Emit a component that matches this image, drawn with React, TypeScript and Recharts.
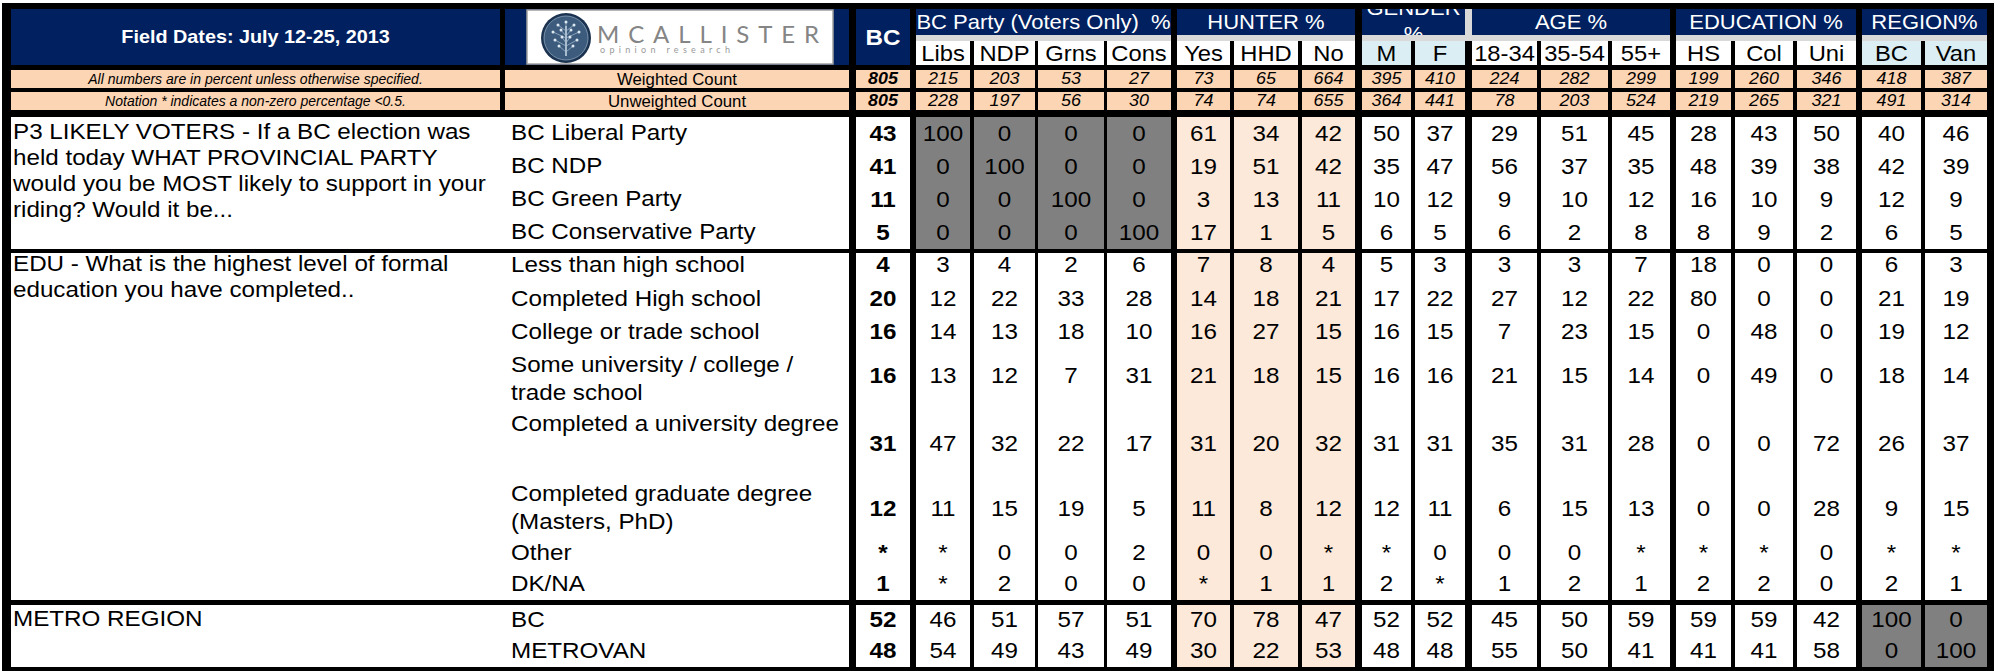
import React from 'react';
import { ScatterChart, Scatter, XAxis, YAxis, ReferenceArea } from 'recharts';

const W = 2003;
const H = 671;

// ---------- data ----------
const fieldDates = 'Field Dates: July 12-25, 2013';
const notes = [
  'All numbers are in percent unless otherwise specified.',
  'Notation * indicates a non-zero percentage <0.5.',
];
const countLabels = ['Weighted Count', 'Unweighted Count'];

const columns = ['BC', 'Libs', 'NDP', 'Grns', 'Cons', 'Yes', 'HHD', 'No', 'M', 'F', '18-34', '35-54', '55+', 'HS', 'Col', 'Uni', 'BC', 'Van'];
const groupLabels = ['BC Party (Voters Only) \u00a0%', 'HUNTER %', 'GENDER %', 'AGE %', 'EDUCATION %', 'REGION%'];
const groupSpans = [[1, 4], [5, 7], [8, 9], [10, 12], [13, 15], [16, 17]];

const weighted = [805, 215, 203, 53, 27, 73, 65, 664, 395, 410, 224, 282, 299, 199, 260, 346, 418, 387];
const unweighted = [805, 228, 197, 56, 30, 74, 74, 655, 364, 441, 78, 203, 524, 219, 265, 321, 491, 314];

const p3Question = [
  'P3 LIKELY VOTERS - If a BC election was',
  'held today WHAT PROVINCIAL PARTY',
  'would you be MOST likely to support in your',
  'riding? Would it be...',
];
const p3Labels = [['BC Liberal Party'], ['BC NDP'], ['BC Green Party'], ['BC Conservative Party']];
const p3Values = [
  [43, 100, 0, 0, 0, 61, 34, 42, 50, 37, 29, 51, 45, 28, 43, 50, 40, 46],
  [41, 0, 100, 0, 0, 19, 51, 42, 35, 47, 56, 37, 35, 48, 39, 38, 42, 39],
  [11, 0, 0, 100, 0, 3, 13, 11, 10, 12, 9, 10, 12, 16, 10, 9, 12, 9],
  [5, 0, 0, 0, 100, 17, 1, 5, 6, 5, 6, 2, 8, 8, 9, 2, 6, 5],
];

const eduQuestion = ['EDU - What is the highest level of formal', 'education you have completed..'];
const eduLabels = [
  ['Less than high school'],
  ['Completed High school'],
  ['College or trade school'],
  ['Some university / college /', 'trade school'],
  ['Completed a university degree'],
  ['Completed graduate degree', '(Masters, PhD)'],
  ['Other'],
  ['DK/NA'],
];
const eduValues = [
  [4, 3, 4, 2, 6, 7, 8, 4, 5, 3, 3, 3, 7, 18, 0, 0, 6, 3],
  [20, 12, 22, 33, 28, 14, 18, 21, 17, 22, 27, 12, 22, 80, 0, 0, 21, 19],
  [16, 14, 13, 18, 10, 16, 27, 15, 16, 15, 7, 23, 15, 0, 48, 0, 19, 12],
  [16, 13, 12, 7, 31, 21, 18, 15, 16, 16, 21, 15, 14, 0, 49, 0, 18, 14],
  [31, 47, 32, 22, 17, 31, 20, 32, 31, 31, 35, 31, 28, 0, 0, 72, 26, 37],
  [12, 11, 15, 19, 5, 11, 8, 12, 12, 11, 6, 15, 13, 0, 0, 28, 9, 15],
  ['*', '*', 0, 0, 2, 0, 0, '*', '*', 0, 0, 0, '*', '*', '*', 0, '*', '*'],
  [1, '*', 2, 0, 0, '*', 1, 1, 2, '*', 1, 2, 1, 2, 2, 0, 2, 1],
];

const metroQuestion = ['METRO REGION'];
const metroLabels = [['BC'], ['METROVAN']];
const metroValues = [
  [52, 46, 51, 57, 51, 70, 78, 47, 52, 52, 45, 50, 59, 59, 59, 42, 100, 0],
  [48, 54, 49, 43, 49, 30, 22, 53, 48, 48, 55, 50, 41, 41, 41, 58, 0, 100],
];

// ---------- layout ----------
const colEdges: [number, number][] = [
  [856, 910], [916, 970], [974, 1035], [1038, 1104], [1107, 1171],
  [1177, 1230], [1234, 1298], [1302, 1355], [1362, 1411], [1415, 1465],
  [1472, 1537], [1541, 1608], [1612, 1670], [1676, 1731], [1735, 1793],
  [1797, 1856], [1862, 1921], [1925, 1987],
];
const noteCol = [11, 500];
const labelCol = [505, 849];
const countRows = [[70, 88], [92, 110]];
const blockRows = [
  [117, 150, 183, 216, 249],
  [253, 281, 315, 348, 392, 460, 525, 569, 600],
  [605, 636, 667],
];
const blockLabelY = [
  [132, 165, 198, 231],
  [264, 298, 331, 364, 423, 493, 552, 583],
  [619, 650],
];
const blockGrey = [[1, 2, 3, 4], [], [16, 17]];
const hunterCols = [5, 6, 7];
const iceCols = [8, 9, 16, 17];

const NAVY = '#002060';
const PEACH = '#fcd5b4';
const PEACH_LIGHT = '#fde9d9';
const GREY = '#808080';
const STRIP = '#d9d9d9';
const ICE = '#daeef3';
const FONT = "'Liberation Sans', Arial, Helvetica, sans-serif";

type Rect = { x1: number; x2: number; y1: number; y2: number; fill: string; stroke?: string };
type Txt = {
  id: number; x: number; y: number; text: string; size: number; sx: number;
  bold?: boolean; italic?: boolean; color: string; anchor: 'start' | 'middle' | 'end'; clip?: number[];
};

const rects: Rect[] = [];
const texts: Txt[] = [];
const addText = (t: Omit<Txt, 'id'>) => texts.push({ id: texts.length, ...t });
const mid = (a: number[]) => (a[0] + a[1]) / 2;

// table frame
rects.push({ x1: 2, x2: 1994, y1: 3, y2: H, fill: '#000' });

// header block
rects.push({ x1: noteCol[0], x2: noteCol[1], y1: 9, y2: 65, fill: NAVY });
rects.push({ x1: labelCol[0], x2: labelCol[1], y1: 9, y2: 65, fill: NAVY });
rects.push({ x1: 527, x2: 833, y1: 10, y2: 64, fill: '#fff', stroke: '#a0a0a0' });
rects.push({ x1: colEdges[0][0], x2: colEdges[0][1], y1: 9, y2: 65, fill: NAVY });
addText({ x: mid(noteCol), y: 37, text: fieldDates, size: 18, sx: 1.1, bold: true, color: '#fff', anchor: 'middle' });
addText({ x: mid(colEdges[0]), y: 37, text: columns[0], size: 22, sx: 1.1, bold: true, color: '#fff', anchor: 'middle' });

groupSpans.forEach(([a, b], g) => {
  const x1 = colEdges[a][0];
  const x2 = colEdges[b][1];
  rects.push({ x1, x2, y1: 9, y2: 35, fill: NAVY });
  rects.push({ x1, x2, y1: 35, y2: 41, fill: STRIP });
  const cx = (x1 + x2) / 2;
  if (groupLabels[g] === 'GENDER %') {
    // wrapped header that the spreadsheet cut off at the cell edges
    addText({ x: cx, y: 8, text: 'GENDER', size: 20, sx: 1.1, color: '#fff', anchor: 'middle', clip: [x1 - cx, 9 - 8, x2 - cx, 35 - 8] });
    addText({ x: cx, y: 34, text: '%', size: 20, sx: 1.1, color: '#fff', anchor: 'middle', clip: [x1 - cx, 9 - 34, x2 - cx, 35 - 34] });
  } else {
    addText({ x: cx, y: 22, text: groupLabels[g], size: 20, sx: 1.1, color: '#fff', anchor: 'middle' });
  }
});
rects.push({ x1: colEdges[9][1], x2: colEdges[10][0], y1: 9, y2: 41, fill: STRIP });

columns.forEach((c, i) => {
  if (i === 0) return;
  rects.push({ x1: colEdges[i][0], x2: colEdges[i][1], y1: 41, y2: 65, fill: iceCols.includes(i) ? ICE : '#fff' });
  addText({ x: mid(colEdges[i]), y: 53, text: c, size: 22, sx: 1.08, color: '#000', anchor: 'middle' });
});

// count rows
[weighted, unweighted].forEach((vals, r) => {
  const [y1, y2] = countRows[r];
  const cy = (y1 + y2) / 2;
  rects.push({ x1: noteCol[0], x2: noteCol[1], y1, y2, fill: PEACH });
  rects.push({ x1: labelCol[0], x2: labelCol[1], y1, y2, fill: PEACH });
  addText({ x: mid(noteCol), y: cy, text: notes[r], size: 14, sx: 1.0, italic: true, color: '#000', anchor: 'middle' });
  addText({ x: mid(labelCol), y: cy, text: countLabels[r], size: 16, sx: 1.05, color: '#000', anchor: 'middle' });
  vals.forEach((v, i) => {
    rects.push({ x1: colEdges[i][0], x2: colEdges[i][1], y1, y2, fill: PEACH });
    addText({ x: mid(colEdges[i]), y: cy, text: String(v), size: 16, sx: 1.12, italic: true, bold: i === 0, color: '#000', anchor: 'middle' });
  });
});

// data blocks
const blockQuestions = [p3Question, eduQuestion, metroQuestion];
const blockLabels = [p3Labels, eduLabels, metroLabels];
const blockValues = [p3Values, eduValues, metroValues];

blockValues.forEach((rows, b) => {
  const edges = blockRows[b];
  const top = edges[0];
  const bottom = edges[edges.length - 1];
  rects.push({ x1: noteCol[0], x2: labelCol[1], y1: top, y2: bottom, fill: '#fff' });
  colEdges.forEach(([x1, x2], i) => {
    let fill = '#fff';
    if (hunterCols.includes(i)) fill = PEACH_LIGHT;
    if (blockGrey[b].includes(i)) fill = GREY;
    rects.push({ x1, x2, y1: top, y2: bottom, fill });
  });
  blockQuestions[b].forEach((line, k) => {
    addText({ x: noteCol[0] + 2, y: blockLabelY[b][0] - 1 + k * 26, text: line, size: 22, sx: 1.1, color: '#000', anchor: 'start' });
  });
  rows.forEach((vals, r) => {
    blockLabels[b][r].forEach((line, k) => {
      addText({ x: labelCol[0] + 6, y: blockLabelY[b][r] + k * 28, text: line, size: 22, sx: 1.1, color: '#000', anchor: 'start' });
    });
    const vy = edges[r + 1] - 17;
    vals.forEach((v, i) => {
      addText({ x: mid(colEdges[i]), y: vy, text: String(v), size: 22, sx: 1.1, bold: i === 0, color: '#000', anchor: 'middle' });
    });
  });
});

const logoPoint = [{ x: 566, y: 38 }];

function CellText(props: any) {
  const { cx, cy, payload } = props;
  const t: Txt = payload;
  if (cx == null || cy == null || !t) return null;
  const node = (
    <text
      transform={`translate(${cx} ${cy}) scale(${t.sx} 1)`}
      textAnchor={t.anchor}
      dominantBaseline="central"
      fontFamily={FONT}
      fontSize={t.size}
      fontWeight={t.bold ? 700 : 400}
      fontStyle={t.italic ? 'italic' : 'normal'}
      fill={t.color}
    >
      {t.text}
    </text>
  );
  if (!t.clip) return node;
  const [x0, y0, x1, y1] = t.clip;
  const id = `cell-clip-${t.id}`;
  return (
    <g>
      <defs>
        <clipPath id={id}>
          <rect x={cx + x0} y={cy + y0} width={x1 - x0} height={y1 - y0} />
        </clipPath>
      </defs>
      <g clipPath={`url(#${id})`}>{node}</g>
    </g>
  );
}

function LogoMark(props: any) {
  const { cx, cy } = props;
  if (cx == null || cy == null) return null;
  const dots = [
    [-8, -13], [0, -16], [8, -13], [-13, -6], [-5, -8], [5, -8], [13, -6],
    [-11, 2], [-4, -1], [4, -1], [11, 2], [-7, 8], [7, 8],
  ];
  return (
    <g>
      <circle cx={cx} cy={cy} r={25} fill="#1b3350" />
      <circle cx={cx} cy={cy} r={22} fill="#3c5b7d" stroke="#8aa5bd" strokeWidth={0.8} />
      <line x1={cx} y1={cy + 18} x2={cx} y2={cy - 12} stroke="#c3d5e3" strokeWidth={1.6} />
      {dots.map(([dx, dy], i) => (
        <g key={i}>
          <line x1={cx} y1={cy + Math.max(dy + 6, -10)} x2={cx + dx} y2={cy + dy} stroke="#a9c0d3" strokeWidth={0.7} />
          <circle cx={cx + dx} cy={cy + dy} r={1.5} fill="#dde8f0" />
        </g>
      ))}
      <text x={cx + 31} y={cy + 5} fontFamily="Lato, 'DejaVu Sans', sans-serif" fontWeight={400} fontSize={24} fill="#858585" textLength={222} lengthAdjust="spacing">
        MCALLISTER
      </text>
      <text x={cx + 34} y={cy + 15} fontFamily="Lato, 'DejaVu Sans', sans-serif" fontSize={9} fill="#9a9a9a" textLength={130} lengthAdjust="spacing">
        opinion research
      </text>
    </g>
  );
}

export default function App() {
  return (
    <>
      <style>{'body{margin:0;background:#fff;}'}</style>
      <ScatterChart width={W} height={H} margin={{ top: 0, right: 0, bottom: 0, left: 0 }}>
        <XAxis type="number" dataKey="x" domain={[0, W]} allowDataOverflow hide />
        <YAxis type="number" dataKey="y" domain={[0, H]} allowDataOverflow reversed hide />
        {rects.map((r, i) => (
          <ReferenceArea
            key={i}
            x1={r.x1}
            x2={r.x2}
            y1={r.y1}
            y2={r.y2}
            fill={r.fill}
            fillOpacity={1}
            stroke={r.stroke ?? 'none'}
            strokeWidth={r.stroke ? 1.5 : 0}
            ifOverflow="visible"
          />
        ))}
        <Scatter data={logoPoint} shape={LogoMark} isAnimationActive={false} />
        <Scatter data={texts} shape={CellText} isAnimationActive={false} />
      </ScatterChart>
    </>
  );
}
